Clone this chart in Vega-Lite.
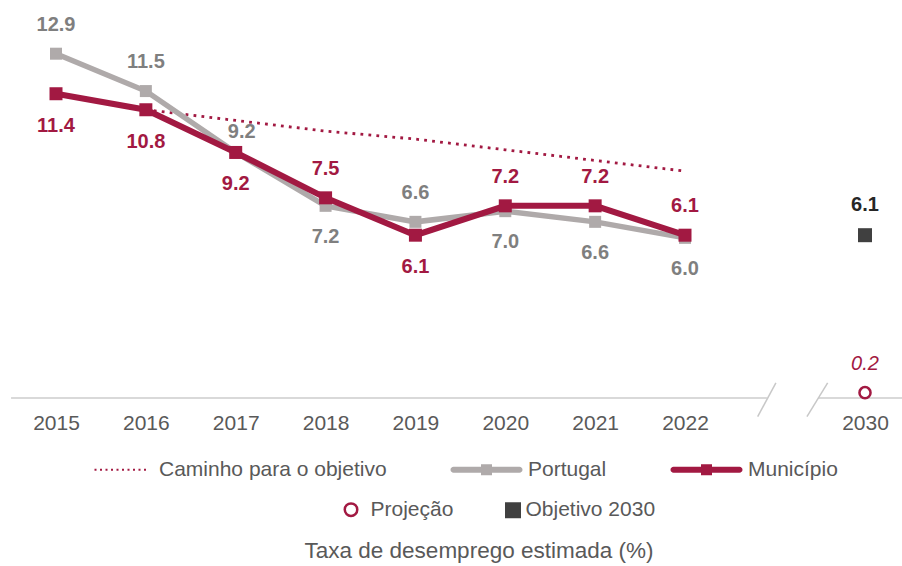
{
  "$schema": "https://vega.github.io/schema/vega-lite/v6.json",
  "width": 892,
  "height": 387,
  "padding": {"left": 10, "top": 11, "right": 0, "bottom": 0},
  "background": "#ffffff",
  "title": {"text": "Taxa de desemprego estimada (%)", "orient": "bottom", "anchor": "middle", "font": "Liberation Sans", "fontSize": 22.5, "fontWeight": "normal", "color": "#595959", "offset": 19, "dx": 22},
  "config": {
    "view": {"stroke": null},
    "font": "Liberation Sans",
    "axisX": {"domain": false, "ticks": false, "grid": false, "labelFont": "Liberation Sans", "labelFontSize": 21, "labelColor": "#595959", "labelPadding": 14, "labelOverlap": false, "labelFlush": false},
    "legend": {
      "orient": "bottom",
      "direction": "horizontal",
      "labelFont": "Liberation Sans",
      "labelFontSize": 21,
      "labelColor": "#595959",
      "labelLimit": 500,
      "symbolSize": 100,
      "labelOffset": -2,
      "symbolStrokeWidth": 0,
      "offset": 26,
      "padding": 0,
      "layout": {"bottom": {"anchor": "middle", "direction": "vertical", "center": true, "margin": 19}}
    }
  },
  "datasets": {
    "series": [
      {"serie": "Portugal", "ano": 2015, "valor": 12.9},
      {"serie": "Portugal", "ano": 2016, "valor": 11.5},
      {"serie": "Portugal", "ano": 2017, "valor": 9.2},
      {"serie": "Portugal", "ano": 2018, "valor": 7.2},
      {"serie": "Portugal", "ano": 2019, "valor": 6.6},
      {"serie": "Portugal", "ano": 2020, "valor": 7.0},
      {"serie": "Portugal", "ano": 2021, "valor": 6.6},
      {"serie": "Portugal", "ano": 2022, "valor": 6.0},
      {"serie": "Município", "ano": 2015, "valor": 11.4},
      {"serie": "Município", "ano": 2016, "valor": 10.8},
      {"serie": "Município", "ano": 2017, "valor": 9.2},
      {"serie": "Município", "ano": 2018, "valor": 7.5},
      {"serie": "Município", "ano": 2019, "valor": 6.1},
      {"serie": "Município", "ano": 2020, "valor": 7.2},
      {"serie": "Município", "ano": 2021, "valor": 7.2},
      {"serie": "Município", "ano": 2022, "valor": 6.1},
      {"serie": "Caminho para o objetivo", "ano": 2016, "valor": 10.8},
      {"serie": "Caminho para o objetivo", "ano": 2017, "valor": 10.4},
      {"serie": "Caminho para o objetivo", "ano": 2018, "valor": 10.0},
      {"serie": "Caminho para o objetivo", "ano": 2019, "valor": 9.7},
      {"serie": "Caminho para o objetivo", "ano": 2020, "valor": 9.3},
      {"serie": "Caminho para o objetivo", "ano": 2021, "valor": 8.9},
      {"serie": "Caminho para o objetivo", "ano": 2022, "valor": 8.5}
    ],
    "metas": [
      {"tipo": "Objetivo 2030", "ano": 2030, "valor": 6.1},
      {"tipo": "Projeção", "ano": 2030, "valor": 0.2}
    ]
  },
  "layer": [
    {
      "data": {"name": "series"},
      "transform": [{"filter": "datum.serie === 'Caminho para o objetivo'"}],
      "mark": {"type": "line", "strokeWidth": 2.8, "strokeDash": [2.8, 5.2], "strokeCap": "butt"},
      "encoding": {
        "x": {
          "field": "ano", "type": "quantitative",
          "scale": {"domain": [2015, 2022, 2030], "range": [45, 674, 854], "nice": false, "zero": false},
          "axis": {"title": null, "values": [2015, 2016, 2017, 2018, 2019, 2020, 2021, 2022, 2030], "format": "d"}
        },
        "y": {"field": "valor", "type": "quantitative", "scale": {"domain": [0, 14.5], "nice": false, "zero": false}, "axis": null},
        "color": {
          "field": "serie", "type": "nominal",
          "scale": {"domain": ["Caminho para o objetivo", "Portugal", "Município"], "range": ["#A21942", "#AFAAAA", "#A21942"]},
          "legend": {
            "title": " ",
            "titleOrient": "left",
            "titlePadding": 63,
            "titleFontSize": 21,
            "columnPadding": 63,
            "labelOffset": -2,
            "encode": {
              "symbols": {
                "update": {
                  "shape": {"signal": "datum.value === 'Caminho para o objetivo' ? 'M-11.2,-0.2h0.4v0.4h-0.4zM-10.1,-0.2h0.4v0.4h-0.4zM-9,-0.2h0.4v0.4h-0.4zM-7.9,-0.2h0.4v0.4h-0.4zM-6.8,-0.2h0.4v0.4h-0.4zM-5.7,-0.2h0.4v0.4h-0.4zM-4.6,-0.2h0.4v0.4h-0.4zM-3.5,-0.2h0.4v0.4h-0.4zM-2.4,-0.2h0.4v0.4h-0.4zM-1.3,-0.2h0.4v0.4h-0.4z' : 'M-13.2,-0.6H0A0.6,0.6 0 0,1 0,0.6H-13.2A0.6,0.6 0 0,1 -13.2,-0.6ZM-7.7,-1.1H-5.5V1.1H-7.7Z'"},
                  "fill": {"signal": "datum.value === 'Portugal' ? '#AFAAAA' : '#A21942'"},
                  "stroke": {"value": "transparent"},
                  "strokeWidth": {"value": 0},
                  "size": {"value": 100},
                  "opacity": {"value": 1}
                }
              }
            }
          }
        }
      }
    },
    {
      "data": {"values": [{}]},
      "mark": {"type": "rule", "color": "#D9D9D9", "strokeWidth": 2},
      "encoding": {
        "x": {"datum": 2014.5, "type": "quantitative", "axis": {"title": null}},
        "x2": {"datum": 2025.64},
        "y": {"datum": 0, "type": "quantitative", "axis": null}
      }
    },
    {
      "data": {"values": [{}]},
      "mark": {"type": "rule", "color": "#D9D9D9", "strokeWidth": 2},
      "encoding": {
        "x": {"datum": 2027.91, "type": "quantitative", "axis": {"title": null}},
        "x2": {"datum": 2031.7},
        "y": {"datum": 0, "type": "quantitative", "axis": null}
      }
    },
    {
      "data": {"values": [{}]},
      "mark": {"type": "rule", "color": "#C8C8C8", "strokeWidth": 1.5},
      "encoding": {
        "x": {"datum": 2025.23, "type": "quantitative", "axis": {"title": null}},
        "x2": {"datum": 2026.04},
        "y": {"datum": -0.7, "type": "quantitative", "axis": null},
        "y2": {"datum": 0.57}
      }
    },
    {
      "data": {"values": [{}]},
      "mark": {"type": "rule", "color": "#C8C8C8", "strokeWidth": 1.5},
      "encoding": {
        "x": {"datum": 2027.42, "type": "quantitative", "axis": {"title": null}},
        "x2": {"datum": 2028.34},
        "y": {"datum": -0.7, "type": "quantitative", "axis": null},
        "y2": {"datum": 0.57}
      }
    },
    {
      "data": {"name": "series"},
      "transform": [{"filter": "datum.serie === 'Portugal'"}],
      "mark": {"type": "line", "strokeWidth": 5.5},
      "encoding": {
        "x": {"field": "ano", "type": "quantitative", "axis": {"title": null}},
        "y": {"field": "valor", "type": "quantitative", "axis": null},
        "color": {"field": "serie", "type": "nominal"}
      }
    },
    {
      "data": {"name": "series"},
      "transform": [{"filter": "datum.serie === 'Portugal'"}],
      "mark": {"type": "point", "shape": "square", "filled": true, "size": 144, "color": "#AFAAAA", "opacity": 1},
      "encoding": {
        "x": {"field": "ano", "type": "quantitative", "axis": {"title": null}},
        "y": {"field": "valor", "type": "quantitative", "axis": null}
      }
    },
    {
      "data": {"name": "series"},
      "transform": [{"filter": "datum.serie === 'Município'"}],
      "mark": {"type": "line", "strokeWidth": 6},
      "encoding": {
        "x": {"field": "ano", "type": "quantitative", "axis": {"title": null}},
        "y": {"field": "valor", "type": "quantitative", "axis": null},
        "color": {"field": "serie", "type": "nominal"}
      }
    },
    {
      "data": {"name": "series"},
      "transform": [{"filter": "datum.serie === 'Município'"}],
      "mark": {"type": "point", "shape": "square", "filled": true, "size": 169, "color": "#A21942", "opacity": 1},
      "encoding": {
        "x": {"field": "ano", "type": "quantitative", "axis": {"title": null}},
        "y": {"field": "valor", "type": "quantitative", "axis": null}
      }
    },
    {
      "data": {"name": "series"},
      "transform": [{"filter": "datum.serie === 'Portugal' && indexof([2015, 2016, 2019], datum.ano) >= 0"}],
      "mark": {"type": "text", "font": "Liberation Sans", "fontSize": 20, "fontWeight": "bold", "color": "#7F7F7F", "dy": -29, "baseline": "middle"},
      "encoding": {
        "x": {"field": "ano", "type": "quantitative", "axis": {"title": null}},
        "y": {"field": "valor", "type": "quantitative", "axis": null},
        "text": {"field": "valor", "type": "quantitative", "format": ".1f"}
      }
    },
    {
      "data": {"name": "series"},
      "transform": [{"filter": "datum.serie === 'Portugal' && datum.ano === 2017"}],
      "mark": {"type": "text", "font": "Liberation Sans", "fontSize": 20, "fontWeight": "bold", "color": "#7F7F7F", "dy": -20, "dx": 6, "baseline": "middle"},
      "encoding": {
        "x": {"field": "ano", "type": "quantitative", "axis": {"title": null}},
        "y": {"field": "valor", "type": "quantitative", "axis": null},
        "text": {"field": "valor", "type": "quantitative", "format": ".1f"}
      }
    },
    {
      "data": {"name": "series"},
      "transform": [{"filter": "datum.serie === 'Portugal' && indexof([2018, 2020, 2021, 2022], datum.ano) >= 0"}],
      "mark": {"type": "text", "font": "Liberation Sans", "fontSize": 20, "fontWeight": "bold", "color": "#7F7F7F", "dy": 31, "baseline": "middle"},
      "encoding": {
        "x": {"field": "ano", "type": "quantitative", "axis": {"title": null}},
        "y": {"field": "valor", "type": "quantitative", "axis": null},
        "text": {"field": "valor", "type": "quantitative", "format": ".1f"}
      }
    },
    {
      "data": {"name": "series"},
      "transform": [{"filter": "datum.serie === 'Município' && indexof([2018, 2020, 2021, 2022], datum.ano) >= 0"}],
      "mark": {"type": "text", "font": "Liberation Sans", "fontSize": 20, "fontWeight": "bold", "color": "#A21942", "dy": -29, "baseline": "middle"},
      "encoding": {
        "x": {"field": "ano", "type": "quantitative", "axis": {"title": null}},
        "y": {"field": "valor", "type": "quantitative", "axis": null},
        "text": {"field": "valor", "type": "quantitative", "format": ".1f"}
      }
    },
    {
      "data": {"name": "series"},
      "transform": [{"filter": "datum.serie === 'Município' && indexof([2015, 2016, 2017, 2019], datum.ano) >= 0"}],
      "mark": {"type": "text", "font": "Liberation Sans", "fontSize": 20, "fontWeight": "bold", "color": "#A21942", "dy": 32, "baseline": "middle"},
      "encoding": {
        "x": {"field": "ano", "type": "quantitative", "axis": {"title": null}},
        "y": {"field": "valor", "type": "quantitative", "axis": null},
        "text": {"field": "valor", "type": "quantitative", "format": ".1f"}
      }
    },
    {
      "data": {"name": "metas"},
      "mark": {"type": "line", "strokeWidth": 5.5},
      "encoding": {
        "x": {"field": "ano", "type": "quantitative", "axis": {"title": null}},
        "y": {"field": "valor", "type": "quantitative", "axis": null},
        "stroke": {
          "field": "tipo", "type": "nominal",
          "scale": {"domain": ["Projeção", "Objetivo 2030"], "range": ["#A21942", "#404040"]},
          "legend": {
            "title": " ",
            "titleOrient": "left",
            "titlePadding": 92,
            "titleFontSize": 21,
            "columnPadding": 51,
            "labelOffset": -2,
            "encode": {
              "symbols": {
                "update": {
                  "shape": {"signal": "datum.value === 'Projeção' ? 'M-3.45,0A1.25,1.25 0 1,1 -0.95,0A1.25,1.25 0 1,1 -3.45,0Z' : 'M-2.4,-1.6H0.8V1.6H-2.4Z'"},
                  "fill": {"signal": "datum.value === 'Projeção' ? '#ffffff' : '#404040'"},
                  "strokeWidth": {"signal": "datum.value === 'Projeção' ? 2.5 : 0"},
                  "size": {"value": 100},
                  "opacity": {"value": 1}
                }
              }
            }
          }
        }
      }
    },
    {
      "data": {"name": "metas"},
      "transform": [{"filter": "datum.tipo === 'Objetivo 2030'"}],
      "mark": {"type": "point", "shape": "square", "filled": true, "size": 196, "color": "#404040", "opacity": 1},
      "encoding": {
        "x": {"field": "ano", "type": "quantitative", "axis": {"title": null}},
        "y": {"field": "valor", "type": "quantitative", "axis": null}
      }
    },
    {
      "data": {"name": "metas"},
      "transform": [{"filter": "datum.tipo === 'Projeção'"}],
      "mark": {"type": "point", "shape": "circle", "filled": false, "size": 123, "color": "#A21942", "fill": "#ffffff", "strokeWidth": 2.5, "opacity": 1},
      "encoding": {
        "x": {"field": "ano", "type": "quantitative", "axis": {"title": null}},
        "y": {"field": "valor", "type": "quantitative", "axis": null}
      }
    },
    {
      "data": {"name": "metas"},
      "transform": [{"filter": "datum.tipo === 'Objetivo 2030'"}],
      "mark": {"type": "text", "font": "Liberation Sans", "fontSize": 20, "fontWeight": "bold", "color": "#262626", "dy": -30, "baseline": "middle"},
      "encoding": {
        "x": {"field": "ano", "type": "quantitative", "axis": {"title": null}},
        "y": {"field": "valor", "type": "quantitative", "axis": null},
        "text": {"field": "valor", "type": "quantitative", "format": ".1f"}
      }
    },
    {
      "data": {"name": "metas"},
      "transform": [{"filter": "datum.tipo === 'Projeção'"}],
      "mark": {"type": "text", "font": "Liberation Sans", "fontSize": 20, "fontStyle": "italic", "color": "#A21942", "dy": -29, "baseline": "middle"},
      "encoding": {
        "x": {"field": "ano", "type": "quantitative", "axis": {"title": null}},
        "y": {"field": "valor", "type": "quantitative", "axis": null},
        "text": {"field": "valor", "type": "quantitative", "format": ".1f"}
      }
    }
  ]
}
